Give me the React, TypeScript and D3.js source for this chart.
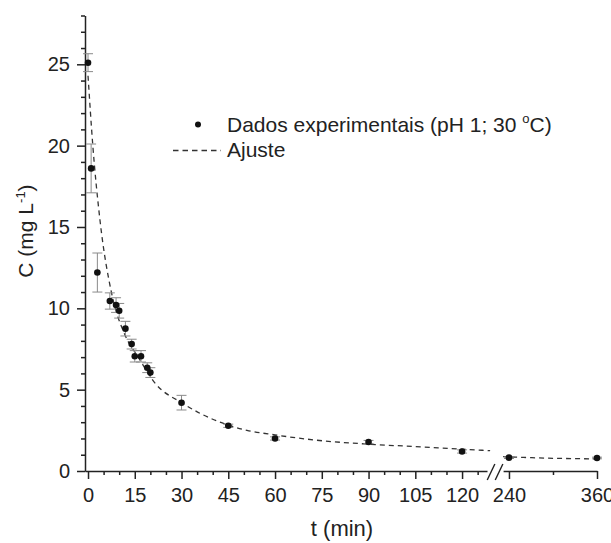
import React, { useRef, useEffect } from 'react';
import * as d3 from 'd3';

// experimental data
const TIMES = [0, 1, 3, 7, 9, 10, 12, 14, 15, 17, 19, 20, 30, 45, 60, 90, 120, 240, 360];
const CONC = [25.1, 18.6, 12.2, 10.45, 10.2, 9.85, 8.75, 7.8, 7.05, 7.05, 6.35, 6.05, 4.2, 2.78, 2.0, 1.78, 1.2, 0.82, 0.8];
const ERR = [0.55, 1.5, 1.2, 0.5, 0.45, 0.45, 0.45, 0.3, 0.35, 0.35, 0.3, 0.3, 0.45, 0.1, 0.1, 0.1, 0.1, 0.05, 0.05];

// fitted curve, two segments around the axis break
const FIT_T1 = [0, 1.5, 3.85, 7.6, 11.9, 16.1, 21.5, 30, 36, 51, 60, 73, 90, 105, 120, 129];
const FIT_C1 = [24.3, 20.1, 15.4, 10.9, 8.35, 7.0, 5.4, 4.2, 3.54, 2.5, 2.22, 1.9, 1.65, 1.5, 1.34, 1.25];
const FIT_T2 = [232, 270, 300, 330, 360];
const FIT_C2 = [0.88, 0.82, 0.78, 0.76, 0.74];

// ticks
const Y_TICKS = [0, 5, 10, 15, 20, 25];
const Y_MINOR = [1, 2, 3, 4, 6, 7, 8, 9, 11, 12, 13, 14, 16, 17, 18, 19, 21, 22, 23, 24, 26, 27, 28];
const X1_TICKS = [0, 15, 30, 45, 60, 75, 90, 105, 120];
const X1_MINOR = [5, 10, 20, 25, 35, 40, 50, 55, 65, 70, 80, 85, 95, 100, 110, 115, 125];
const X2_TICKS = [240, 360];
const X2_MINOR = [300];

const LEGEND_DATA = 'Dados experimentais (pH 1; 30 ';
const LEGEND_FIT = 'Ajuste';
const X_TITLE = 't (min)';

const FONT = "'Liberation Sans', Arial, Helvetica, sans-serif";
const INK = '#222';

export default function App() {
  const ref = useRef<SVGSVGElement | null>(null);

  useEffect(() => {
    const svg = d3.select(ref.current);
    svg.selectAll('*').remove();

    const y = d3.scaleLinear().domain([0, 28]).range([471, 15.5]);
    const x1 = d3.scaleLinear().domain([-1, 128]).range([84.9, 487]);
    const x2 = d3.scaleLinear().domain([232, 360]).range([503.1, 597]);
    const xOf = (t: number) => (t <= 180 ? x1(t) : x2(t));
    const axisX = 85;
    const axisY = 471;

    const styleAxis = (g: any) => {
      g.selectAll('path').attr('stroke', INK).attr('stroke-width', 1.5);
      g.selectAll('line').attr('stroke', INK).attr('stroke-width', 1.5);
      g.selectAll('text').attr('fill', INK).attr('font-family', FONT).attr('font-size', 20);
    };

    // Y axis
    const gyMinor = svg.append('g').attr('transform', `translate(${axisX},0)`);
    gyMinor.call(d3.axisLeft(y).tickValues(Y_MINOR).tickSize(4).tickSizeOuter(0).tickFormat(() => '') as any);
    gyMinor.select('.domain').remove();
    styleAxis(gyMinor);
    const gy = svg.append('g').attr('transform', `translate(${axisX},0)`);
    gy.call(d3.axisLeft(y).tickValues(Y_TICKS).tickSize(8).tickSizeOuter(0).tickPadding(7).tickFormat(d3.format('d')) as any);
    styleAxis(gy);

    // X axis segment 1
    const gx1m = svg.append('g').attr('transform', `translate(0,${axisY})`);
    gx1m.call(d3.axisBottom(x1).tickValues(X1_MINOR).tickSize(4).tickSizeOuter(0).tickFormat(() => '') as any);
    gx1m.select('.domain').remove();
    styleAxis(gx1m);
    const gx1 = svg.append('g').attr('transform', `translate(0,${axisY})`);
    gx1.call(d3.axisBottom(x1).tickValues(X1_TICKS).tickSize(8).tickSizeOuter(0).tickPadding(9).tickFormat(d3.format('d')) as any);
    styleAxis(gx1);

    // X axis segment 2
    const gx2m = svg.append('g').attr('transform', `translate(0,${axisY})`);
    gx2m.call(d3.axisBottom(x2).tickValues(X2_MINOR).tickSize(4).tickSizeOuter(0).tickFormat(() => '') as any);
    gx2m.select('.domain').remove();
    styleAxis(gx2m);
    const gx2 = svg.append('g').attr('transform', `translate(0,${axisY})`);
    gx2.call(d3.axisBottom(x2).tickValues(X2_TICKS).tickSize(8).tickSizeOuter(0).tickPadding(9).tickFormat(d3.format('d')) as any);
    styleAxis(gx2);

    // break marks
    const bx = (x1(128) + x2(232)) / 2;
    [-4, 4].forEach((off) => {
      svg.append('line')
        .attr('x1', bx + off - 3.8).attr('y1', axisY + 9)
        .attr('x2', bx + off + 3.8).attr('y2', axisY - 7)
        .attr('stroke', INK).attr('stroke-width', 1.4);
    });

    // fit curves
    const line = d3.line<[number, number]>()
      .x((d) => xOf(d[0]))
      .y((d) => y(d[1]))
      .curve(d3.curveMonotoneX);
    const seg1: [number, number][] = FIT_T1.map((t, i) => [t, FIT_C1[i]]);
    const seg2: [number, number][] = FIT_T2.map((t, i) => [t, FIT_C2[i]]);
    [seg1, seg2].forEach((seg) => {
      svg.append('path')
        .attr('d', line(seg) as string)
        .attr('fill', 'none')
        .attr('stroke', '#333')
        .attr('stroke-width', 1.3)
        .attr('stroke-dasharray', '5,4');
    });

    // error bars
    const eb = svg.append('g').attr('stroke', '#8a8a8a').attr('stroke-width', 1);
    TIMES.forEach((t, i) => {
      const cx = xOf(t);
      const top = y(CONC[i] + ERR[i]);
      const bot = y(CONC[i] - ERR[i]);
      eb.append('line').attr('x1', cx).attr('x2', cx).attr('y1', top).attr('y2', bot);
      eb.append('line').attr('x1', cx - 5).attr('x2', cx + 5).attr('y1', top).attr('y2', top);
      eb.append('line').attr('x1', cx - 5).attr('x2', cx + 5).attr('y1', bot).attr('y2', bot);
    });

    // points
    svg.append('g').selectAll('circle')
      .data(TIMES.map((t, i) => [t, CONC[i]]))
      .join('circle')
      .attr('cx', (d) => xOf(d[0]))
      .attr('cy', (d) => y(d[1]))
      .attr('r', 3.3)
      .attr('fill', '#111');

    // legend
    svg.append('circle').attr('cx', 198).attr('cy', 124.5).attr('r', 3).attr('fill', '#111');
    const lt = svg.append('text').attr('x', 227).attr('y', 132)
      .attr('font-family', FONT).attr('font-size', 21).attr('fill', INK);
    lt.append('tspan').text(LEGEND_DATA);
    lt.append('tspan').attr('font-size', 13).attr('dy', -9).text('o');
    lt.append('tspan').attr('dy', 9).text('C)');
    svg.append('line').attr('x1', 173).attr('x2', 221).attr('y1', 150.5).attr('y2', 150.5)
      .attr('stroke', '#333').attr('stroke-width', 1.3).attr('stroke-dasharray', '5.5,4');
    svg.append('text').attr('x', 227).attr('y', 156.5)
      .attr('font-family', FONT).attr('font-size', 21).attr('fill', INK).text(LEGEND_FIT);

    // axis titles
    svg.append('text').attr('x', 342).attr('y', 536).attr('text-anchor', 'middle')
      .attr('font-family', FONT).attr('font-size', 22).attr('fill', INK).text(X_TITLE);
    const yt = svg.append('text').attr('transform', 'translate(33,231) rotate(-90)')
      .attr('text-anchor', 'middle')
      .attr('font-family', FONT).attr('font-size', 21).attr('fill', INK);
    yt.append('tspan').text('C (mg L');
    yt.append('tspan').attr('font-size', 13).attr('dy', -8).text('-1');
    yt.append('tspan').attr('dy', 8).text(')');
  }, []);

  return (
    <svg
      ref={ref}
      width={611}
      height={543}
      style={{ position: 'absolute', left: 0, top: 0, background: '#fff' }}
    />
  );
}
